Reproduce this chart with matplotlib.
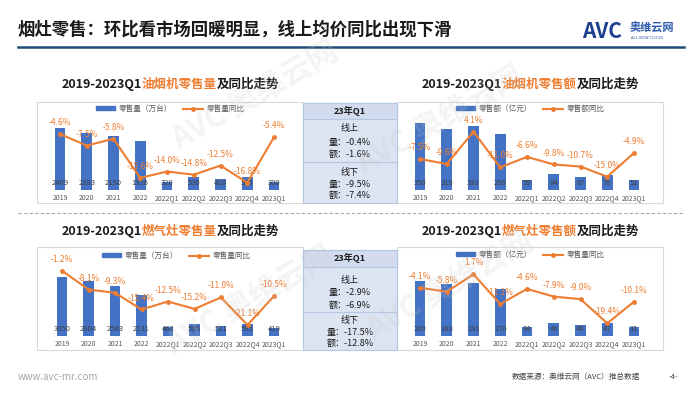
import numpy as np
import matplotlib
matplotlib.use('Agg')
from matplotlib import pyplot as plt
from matplotlib.patches import Rectangle, Patch
from matplotlib.lines import Line2D

plt.rcParams['font.family'] = ['Noto Sans CJK SC', 'DejaVu Sans']

# data
periods = ['2019', '2020', '2021', '2022', '2022Q1', '2022Q2', '2022Q3', '2022Q4', '2023Q1']
hood_volume = [2469, 2283, 2150, 1936, 320, 530, 420, 500, 300]
hood_volume_yoy = [-4.6, -7.5, -5.8, -15.6, -14.0, -14.8, -12.5, -16.8, -5.4]
hood_sales = [350, 319, 333, 296, 55, 84, 67, 78, 52]
hood_sales_yoy = [-7.5, -9.6, 4.1, -11.0, -6.6, -9.8, -10.7, -15.0, -4.9]
stove_volume = [3050, 2804, 2583, 2131, 462, 595, 511, 595, 410]
stove_volume_yoy = [-1.2, -8.1, -9.3, -15.4, -12.5, -15.2, -11.0, -21.1, -10.5]
stove_sales = [200, 188, 191, 170, 34, 48, 40, 47, 31]
stove_sales_yoy = [-4.1, -5.8, 1.7, -11.1, -4.6, -7.9, -9.0, -19.4, -10.1]

hood_table = ['23年Q1', '线上', '量：-0.4%', '额：-1.6%', '线下', '量：-9.5%', '额：-7.4%']
stove_table = ['23年Q1', '线上', '量：-2.9%', '额：-6.9%', '线下', '量：-17.5%', '额：-12.8%']

BLUE = '#4472C4'
ORANGE = '#ED7D31'
W, H = 700, 394

fig = plt.figure(figsize=(7, 3.94), dpi=100)
bg = fig.add_axes([0, 0, 1, 1])
bg.set_xlim(0, W)
bg.set_ylim(H, 0)
bg.axis('off')
bg.set_zorder(-1)
renderer = fig.canvas.get_renderer()


def rich_text(cx, y, parts, size):
    texts = [bg.text(0, y, s, color=c, fontsize=size, fontweight='bold', va='center', ha='left')
             for s, c in parts]
    widths = [t.get_window_extent(renderer).width for t in texts]
    x = cx - sum(widths) / 2
    for t, w in zip(texts, widths):
        t.set_x(x)
        x += w


def panel(x0, x1, ybot, ytop, bars, yoy, bar_max, line_lim, labels, leg_xy):
    ax = fig.add_axes([x0 / W, 1 - ybot / H, (x1 - x0) / W, (ybot - ytop) / H])
    ax.patch.set_alpha(0)
    xs = np.arange(len(periods))
    ax.bar(xs, bars, width=0.4, color=BLUE)
    ax.set_xlim(-0.5, len(periods) - 0.5)
    ax.set_ylim(0, bar_max)
    for i, v in enumerate(bars):
        ax.text(i, 0.1, str(v), transform=ax.get_xaxis_transform(), ha='center',
                va='center', fontsize=5.5, color='#404040')
    ax.set_xticks(xs)
    ax.set_xticklabels(periods, fontsize=5, color='#595959')
    ax.tick_params(axis='x', length=0, pad=3)
    ax.set_yticks([])
    for s in ax.spines.values():
        s.set_visible(False)

    ax2 = ax.twinx()
    ax2.plot(xs, yoy, color=ORANGE, lw=1.5, marker='o', ms=2.5)
    ax2.set_ylim(*line_lim)
    ax2.set_yticks([])
    for s in ax2.spines.values():
        s.set_visible(False)
    for i, v in enumerate(yoy):
        ax2.annotate(f'{v:.1f}%', (i, v), xytext=(0, 5), textcoords='offset points',
                     ha='center', va='bottom', fontsize=6, color=ORANGE, annotation_clip=False)

    handles = [Patch(color=BLUE), Line2D([], [], color=ORANGE, lw=1.5, marker='o', ms=2.5)]
    ax.legend(handles, labels, loc='center', ncol=2, frameon=False, fontsize=5.5,
              bbox_to_anchor=(leg_xy[0] / W, 1 - leg_xy[1] / H), bbox_transform=fig.transFigure,
              handlelength=2.6, handleheight=0.45, columnspacing=1.5, handletextpad=0.4,
              labelcolor='#595959')


def table(x0, x1, ytop, yhead, ydiv, ybot, rows, ys):
    bg.add_patch(Rectangle((x0, ytop), x1 - x0, ybot - ytop, facecolor='#DCE4F2',
                           edgecolor='#B4C6E2', lw=0.8))
    bg.add_patch(Rectangle((x0, ytop), x1 - x0, yhead - ytop, facecolor='#D2DCEE',
                           edgecolor='#B4C6E2', lw=0.8))
    bg.plot([x0, x1], [ydiv, ydiv], color='#B4C6E2', lw=0.8)
    for i, (txt, y) in enumerate(zip(rows, ys)):
        bg.text((x0 + x1) / 2, y, txt, ha='center', va='center', fontsize=6.5,
                color='#1A1A1A', fontweight='bold' if i == 0 else 'normal')


# header
bg.text(18, 30, '烟灶零售：环比看市场回暖明显，线上均价同比出现下滑', fontsize=12.5,
        fontweight='bold', va='center', color='#1A1A1A')
bg.plot([18, 684], [47, 47], color='#1F4E79', lw=1.8)
bg.text(582, 31, 'AVC', fontsize=15, fontweight='bold', style='italic', color='#1F3F8F', va='center')
bg.text(630, 28, '奥维云网', fontsize=8, fontweight='bold', color='#2E5AAC', va='center')
bg.text(631, 38, 'ALL VIEW CLOUD', fontsize=3, color='#2E5AAC', va='center')

# chart frames
for fx0, fy0, fx1, fy1 in [(37, 102, 303, 203), (397, 102, 663, 203),
                           (37, 247, 303, 350), (397, 247, 663, 350)]:
    bg.add_patch(Rectangle((fx0, fy0), fx1 - fx0, fy1 - fy0, facecolor='white',
                           edgecolor='#D9D9D9', lw=0.8))

rich_text(170, 84, [('2019-2023Q1', '#1A1A1A'), ('油烟机零售量', ORANGE), ('及同比走势', '#1A1A1A')], 9)
rich_text(530, 84, [('2019-2023Q1', '#1A1A1A'), ('油烟机零售额', ORANGE), ('及同比走势', '#1A1A1A')], 9)
rich_text(170, 231, [('2019-2023Q1', '#1A1A1A'), ('燃气灶零售量', ORANGE), ('及同比走势', '#1A1A1A')], 9)
rich_text(530, 231, [('2019-2023Q1', '#1A1A1A'), ('燃气灶零售额', ORANGE), ('及同比走势', '#1A1A1A')], 9)

panel(46.6, 287.4, 190, 120, hood_volume, hood_volume_yoy, 2788, (-18.63, -1.09),
      ['零售量（万台）', '零售量同比'], (170, 109))
panel(406.6, 647.4, 190, 120, hood_sales, hood_sales_yoy, 367, (-20.65, 9.07),
      ['零售额（亿元）', '零售额同比'], (530, 109))
panel(48.75, 287.25, 336, 266, stove_volume, stove_volume_yoy, 3600, (-25.13, 0.52),
      ['零售量（万台）', '零售量同比'], (176, 256))
panel(406.6, 647.4, 336, 266, stove_sales, stove_sales_yoy, 253, (-24.87, 5.27),
      ['零售额（亿元）', '零售量同比'], (530, 255))

table(303, 397, 103, 119, 162, 203, hood_table, [111, 128, 142, 154, 172, 184, 195])
table(303, 397, 250, 267, 312, 350, stove_table, [258, 280, 293, 305, 320, 332, 343])

bg.plot([18, 684], [213, 213], color='#A6A6A6', lw=0.8, ls=(0, (3, 2)))

# footer
bg.text(18, 377, 'www.avc-mr.com', fontsize=7, color='#A6A6A6', va='center')
bg.text(640, 377, '数据来源：奥维云网（AVC）推总数据', ha='right', va='center', fontsize=5.5, color='#404040')
bg.text(678, 377, '-4-', ha='right', va='center', fontsize=5.5, color='#404040')

# faint watermarks
for wx, wy in [(255, 95), (440, 120), (250, 300), (450, 285)]:
    fig.text(wx / W, 1 - wy / H, 'AVC 奥维云网', fontsize=22, fontweight='bold', color='#C8C8C8',
             alpha=0.2, rotation=30, ha='center', va='center')

fig.savefig('out.png', dpi=100)
